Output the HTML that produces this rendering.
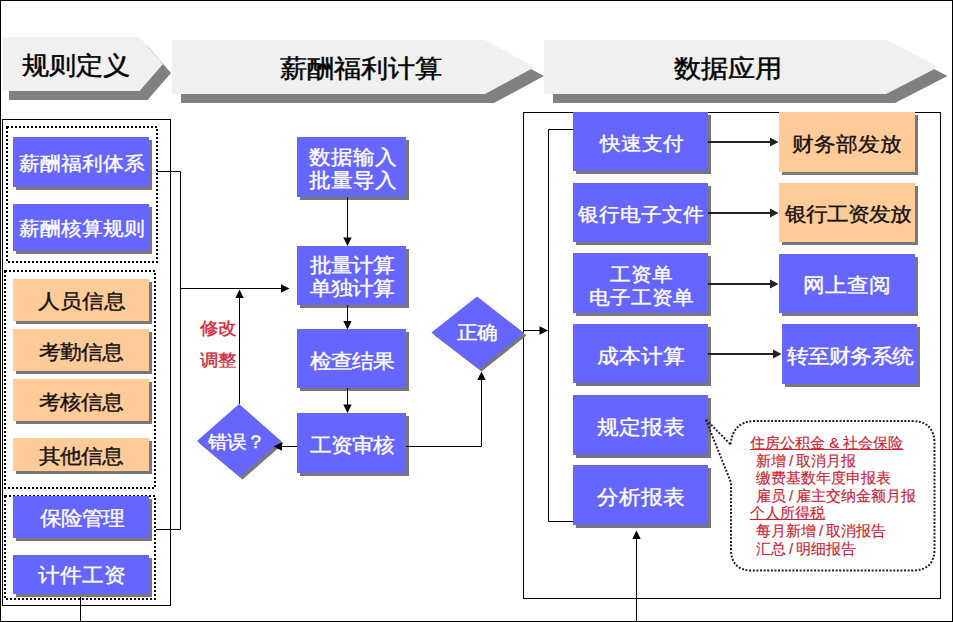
<!DOCTYPE html>
<html><head><meta charset="utf-8">
<style>
html,body{margin:0;padding:0;background:#fff;}
body{width:953px;height:622px;position:relative;overflow:hidden;font-family:"Liberation Sans",sans-serif;}
svg{position:absolute;left:0;top:0;}
.t{position:absolute;white-space:nowrap;font-weight:400;line-height:1;text-align:center;transform-origin:0 0;}
.c{position:absolute;white-space:nowrap;color:#cc2233;font-size:15px;line-height:17.6px;-webkit-text-stroke:0.15px #cc2233;}
.c u{text-decoration:underline;text-underline-offset:1px;text-decoration-thickness:1px;}
.c i{font-style:normal;display:inline-block;}
</style></head><body>
<svg width="953" height="622" viewBox="0 0 953 622">
<rect x="0.5" y="0.5" width="952" height="621" fill="none" stroke="#000"/>
<polygon points="9,46 147.5,46 171,73 147.5,100 9,100" fill="#808080"/>
<polygon points="3,37 139.5,37 163,64 139.5,91 3,91" fill="#f0f0f0"/>
<polygon points="181,49 494,49 544,76 494,103 181,103" fill="#808080"/>
<polygon points="172,40 485,40 535,67 485,94 172,94" fill="#f0f0f0"/>
<polygon points="553,49 895.5,49 947.5,76 895,103 553,103" fill="#808080"/>
<polygon points="544,40 886.5,40 938.5,67 886,94 544,94" fill="#f0f0f0"/>
<rect x="2.5" y="119.5" width="168" height="486" fill="none" stroke="#000"/>
<rect x="523.5" y="112.5" width="417" height="486" fill="none" stroke="#000"/>
<g fill="none" stroke="#000" stroke-width="2" stroke-dasharray="2 2"><rect x="7" y="127" width="150" height="135"/><rect x="5" y="271" width="150" height="217"/><rect x="5" y="496" width="150" height="103"/></g>
<rect x="16" y="140" width="136" height="50" fill="#787878"/>
<rect x="13" y="137" width="136" height="50" fill="#6666ff"/>
<rect x="16" y="207" width="136" height="47" fill="#787878"/>
<rect x="13" y="204" width="136" height="47" fill="#6666ff"/>
<rect x="16" y="282" width="136" height="42" fill="#787878"/>
<rect x="13" y="279" width="136" height="42" fill="#ffcc99"/>
<rect x="16" y="332" width="136" height="42" fill="#787878"/>
<rect x="13" y="329" width="136" height="42" fill="#ffcc99"/>
<rect x="16" y="382" width="136" height="42" fill="#787878"/>
<rect x="13" y="379" width="136" height="42" fill="#ffcc99"/>
<rect x="16" y="441" width="136" height="33" fill="#787878"/>
<rect x="13" y="438" width="136" height="33" fill="#ffcc99"/>
<rect x="16" y="499" width="136" height="42" fill="#787878"/>
<rect x="13" y="496" width="136" height="42" fill="#6666ff"/>
<rect x="16" y="558" width="136" height="39" fill="#787878"/>
<rect x="13" y="555" width="136" height="39" fill="#6666ff"/>
<rect x="300" y="140" width="109" height="60" fill="#787878"/>
<rect x="297" y="137" width="109" height="60" fill="#6666ff"/>
<rect x="300" y="249" width="109" height="59" fill="#787878"/>
<rect x="297" y="246" width="109" height="59" fill="#6666ff"/>
<rect x="300" y="332" width="109" height="59" fill="#787878"/>
<rect x="297" y="329" width="109" height="59" fill="#6666ff"/>
<rect x="300" y="416" width="109" height="60" fill="#787878"/>
<rect x="297" y="413" width="109" height="60" fill="#6666ff"/>
<rect x="576" y="115" width="135" height="59" fill="#787878"/>
<rect x="573" y="112" width="135" height="59" fill="#6666ff"/>
<rect x="576" y="186" width="135" height="59" fill="#787878"/>
<rect x="573" y="183" width="135" height="59" fill="#6666ff"/>
<rect x="576" y="256" width="135" height="60" fill="#787878"/>
<rect x="573" y="253" width="135" height="60" fill="#6666ff"/>
<rect x="576" y="327" width="135" height="59" fill="#787878"/>
<rect x="573" y="324" width="135" height="59" fill="#6666ff"/>
<rect x="576" y="398" width="135" height="60" fill="#787878"/>
<rect x="573" y="395" width="135" height="60" fill="#6666ff"/>
<rect x="576" y="468" width="135" height="60" fill="#787878"/>
<rect x="573" y="465" width="135" height="60" fill="#6666ff"/>
<rect x="782" y="115" width="136" height="60" fill="#787878"/>
<rect x="779" y="112" width="136" height="60" fill="#ffcc99"/>
<rect x="782" y="186" width="136" height="59" fill="#787878"/>
<rect x="779" y="183" width="136" height="59" fill="#ffcc99"/>
<rect x="782" y="257" width="136" height="59" fill="#787878"/>
<rect x="779" y="254" width="136" height="59" fill="#6666ff"/>
<rect x="785" y="327" width="135" height="60" fill="#787878"/>
<rect x="782" y="324" width="135" height="60" fill="#6666ff"/>
<polygon points="241.5,406.5 283.5,443.5 242.5,479.5 199.5,443.5" fill="#787878"/>
<polygon points="239,404 281,441 240,477 197,441" fill="#6666ff"/>
<polygon points="479.5,299 526.5,335.5 481.5,371.5 434,335" fill="#787878"/>
<polygon points="477,296.5 524,333 479,369 431.5,332.5" fill="#6666ff"/>
<polyline points="157,171.5 180.5,171.5 180.5,529.5 156,529.5" fill="none" stroke="#000" stroke-width="1"/>
<polyline points="180.5,288.5 283,288.5" fill="none" stroke="#000" stroke-width="1"/>
<polyline points="239.5,404 239.5,296" fill="none" stroke="#000" stroke-width="1"/>
<polyline points="347.5,197 347.5,239" fill="none" stroke="#000" stroke-width="1"/>
<polyline points="347.5,305 347.5,322" fill="none" stroke="#000" stroke-width="1"/>
<polyline points="347.5,388 347.5,406" fill="none" stroke="#000" stroke-width="1"/>
<polyline points="297,446.5 280,446.5" fill="none" stroke="#000" stroke-width="1"/>
<polyline points="406,446.5 481.5,446.5 481.5,378" fill="none" stroke="#000" stroke-width="1"/>
<polyline points="524,330.5 541,330.5" fill="none" stroke="#000" stroke-width="1"/>
<polyline points="573,129.5 548.5,129.5 548.5,521.5 573,521.5" fill="none" stroke="#000" stroke-width="1"/>
<polyline points="80.5,597 80.5,621" fill="none" stroke="#000" stroke-width="1"/>
<polyline points="636.5,621 636.5,538" fill="none" stroke="#000" stroke-width="1"/>
<line x1="708" y1="142" x2="773" y2="142" stroke="#222" stroke-width="2"/>
<polygon points="778.5,142 770,137.5 770,146.5" fill="#222"/>
<line x1="708" y1="213" x2="773" y2="213" stroke="#222" stroke-width="2"/>
<polygon points="778.5,213 770,208.5 770,217.5" fill="#222"/>
<line x1="708" y1="284" x2="773" y2="284" stroke="#222" stroke-width="2"/>
<polygon points="778.5,284 770,279.5 770,288.5" fill="#222"/>
<line x1="708" y1="354" x2="776" y2="354" stroke="#222" stroke-width="2"/>
<polygon points="781.5,354 773,349.5 773,358.5" fill="#222"/>
<polygon points="289.5,288.5 281,284.3 281,292.7" fill="#000"/>
<polygon points="239.5,289.5 235.3,298 243.7,298" fill="#000"/>
<polygon points="347.5,246 343.3,237.5 351.7,237.5" fill="#000"/>
<polygon points="347.5,329.5 343.3,321 351.7,321" fill="#000"/>
<polygon points="347.5,413 343.3,404.5 351.7,404.5" fill="#000"/>
<polygon points="273.5,446.5 282,442.3 282,450.7" fill="#000"/>
<polygon points="481.5,371.5 477.3,380 485.7,380" fill="#000"/>
<polygon points="548,330.5 539.5,326.3 539.5,334.7" fill="#000"/>
<polygon points="636.5,530.5 632.3,539 640.7,539" fill="#000"/>
<path d="M730.5,444.5 Q733,421 755,421 L912,421 Q934.5,421 934.5,444 L934.5,549 Q934.5,570.5 912,570.5 L752,570.5 Q731,570.5 731,549 L731,482.5 L705.5,419 Z" fill="none" stroke="#222" stroke-width="2" stroke-dasharray="2 1.6"/>
</svg>
<div class="t" style="left:21.50px;top:54.35px;font-size:27px;color:#000;-webkit-text-stroke:0.5px #000;transform:scaleY(0.92);">规则定义</div>
<div class="t" style="left:279.70px;top:57.30px;font-size:27px;color:#000;-webkit-text-stroke:0.5px #000;transform:scaleY(0.92);">薪酬福利计算</div>
<div class="t" style="left:673.70px;top:57.05px;font-size:27px;color:#000;-webkit-text-stroke:0.5px #000;transform:scaleY(0.92);">数据应用</div>
<div class="t" style="left:19.35px;top:152.70px;font-size:21.14px;color:#ffffff;-webkit-text-stroke:0.4px #ffffff;transform:scaleY(0.92);">薪酬福利体系</div>
<div class="t" style="left:18.95px;top:218.70px;font-size:20.92px;color:#ffffff;-webkit-text-stroke:0.4px #ffffff;transform:scaleY(0.92);">薪酬核算规则</div>
<div class="t" style="left:37.75px;top:291.25px;font-size:21.65px;color:#141010;-webkit-text-stroke:0.4px #141010;transform:scaleY(0.92);">人员信息</div>
<div class="t" style="left:39.20px;top:342.55px;font-size:21.41px;color:#141010;-webkit-text-stroke:0.4px #141010;transform:scaleY(0.92);">考勤信息</div>
<div class="t" style="left:39.10px;top:392.55px;font-size:21.49px;color:#141010;-webkit-text-stroke:0.4px #141010;transform:scaleY(0.92);">考核信息</div>
<div class="t" style="left:39.05px;top:446.90px;font-size:21.48px;color:#141010;-webkit-text-stroke:0.4px #141010;transform:scaleY(0.92);">其他信息</div>
<div class="t" style="left:39.50px;top:509.15px;font-size:21.25px;color:#ffffff;-webkit-text-stroke:0.4px #ffffff;transform:scaleY(0.92);">保险管理</div>
<div class="t" style="left:38.00px;top:565.20px;font-size:21.6px;color:#ffffff;-webkit-text-stroke:0.4px #ffffff;transform:scaleY(0.92);">计件工资</div>
<div class="t" style="left:308.70px;top:146.00px;font-size:21.7px;color:#ffffff;-webkit-text-stroke:0.4px #ffffff;transform:scaleY(0.92);line-height:25px;">数据输入<br>批量导入</div>
<div class="t" style="left:310.30px;top:255.45px;font-size:21.44px;color:#ffffff;-webkit-text-stroke:0.4px #ffffff;transform:scaleY(0.92);line-height:25px;">批量计算<br>单独计算</div>
<div class="t" style="left:310.25px;top:352.20px;font-size:21.24px;color:#ffffff;-webkit-text-stroke:0.4px #ffffff;transform:scaleY(0.92);">检查结果</div>
<div class="t" style="left:310.15px;top:436.40px;font-size:21.32px;color:#ffffff;-webkit-text-stroke:0.4px #ffffff;transform:scaleY(0.92);">工资审核</div>
<div class="t" style="left:207.50px;top:432.85px;font-size:19.42px;color:#ffffff;-webkit-text-stroke:0.4px #ffffff;transform:scaleY(0.92);">错误？</div>
<div class="t" style="left:456.95px;top:322.60px;font-size:20.42px;color:#ffffff;-webkit-text-stroke:0.4px #ffffff;transform:scaleY(0.92);">正确</div>
<div class="t" style="left:600.10px;top:133.95px;font-size:20.76px;color:#ffffff;-webkit-text-stroke:0.4px #ffffff;transform:scaleY(0.92);">快速支付</div>
<div class="t" style="left:578.35px;top:204.05px;font-size:20.98px;color:#ffffff;-webkit-text-stroke:0.4px #ffffff;transform:scaleY(0.92);">银行电子文件</div>
<div class="t" style="left:589.15px;top:262.80px;font-size:21.1px;color:#ffffff;-webkit-text-stroke:0.4px #ffffff;transform:scaleY(0.92);line-height:25px;">工资单<br>电子工资单</div>
<div class="t" style="left:596.85px;top:346.25px;font-size:21.58px;color:#ffffff;-webkit-text-stroke:0.4px #ffffff;transform:scaleY(0.92);">成本计算</div>
<div class="t" style="left:597.35px;top:417.75px;font-size:21.53px;color:#ffffff;-webkit-text-stroke:0.4px #ffffff;transform:scaleY(0.92);">规定报表</div>
<div class="t" style="left:597.35px;top:487.80px;font-size:21.53px;color:#ffffff;-webkit-text-stroke:0.4px #ffffff;transform:scaleY(0.92);">分析报表</div>
<div class="t" style="left:792.15px;top:133.55px;font-size:21.66px;color:#141010;-webkit-text-stroke:0.4px #141010;transform:scaleY(0.92);">财务部发放</div>
<div class="t" style="left:785.25px;top:205.30px;font-size:21.24px;color:#141010;-webkit-text-stroke:0.4px #141010;transform:scaleY(0.92);">银行工资发放</div>
<div class="t" style="left:803.15px;top:275.40px;font-size:22.04px;color:#ffffff;-webkit-text-stroke:0.4px #ffffff;transform:scaleY(0.92);">网上查阅</div>
<div class="t" style="left:787.35px;top:346.55px;font-size:21.24px;color:#ffffff;-webkit-text-stroke:0.4px #ffffff;transform:scaleY(0.92);">转至财务系统</div>
<div class="t" style="left:200.10px;top:319.80px;font-size:18.25px;color:#d42a3a;-webkit-text-stroke:0.4px #d42a3a;transform:scaleY(0.92);">修改</div>
<div class="t" style="left:200.10px;top:352.45px;font-size:18.25px;color:#d42a3a;-webkit-text-stroke:0.4px #d42a3a;transform:scaleY(0.92);">调整</div>
<div class="c" style="left:750px;top:434px;"><u>住房公积金 &amp; 社会保险</u><br><i style="width:6px"></i>新增<i style="width:10px;text-align:center">/</i>取消月报<br><i style="width:6px"></i>缴费基数年度申报表<br><i style="width:6px"></i>雇员<i style="width:10px;text-align:center">/</i>雇主交纳金额月报<br><u>个人所得税</u><br><i style="width:6px"></i>每月新增<i style="width:10px;text-align:center">/</i>取消报告<br><i style="width:6px"></i>汇总<i style="width:10px;text-align:center">/</i>明细报告</div>

</body></html>
